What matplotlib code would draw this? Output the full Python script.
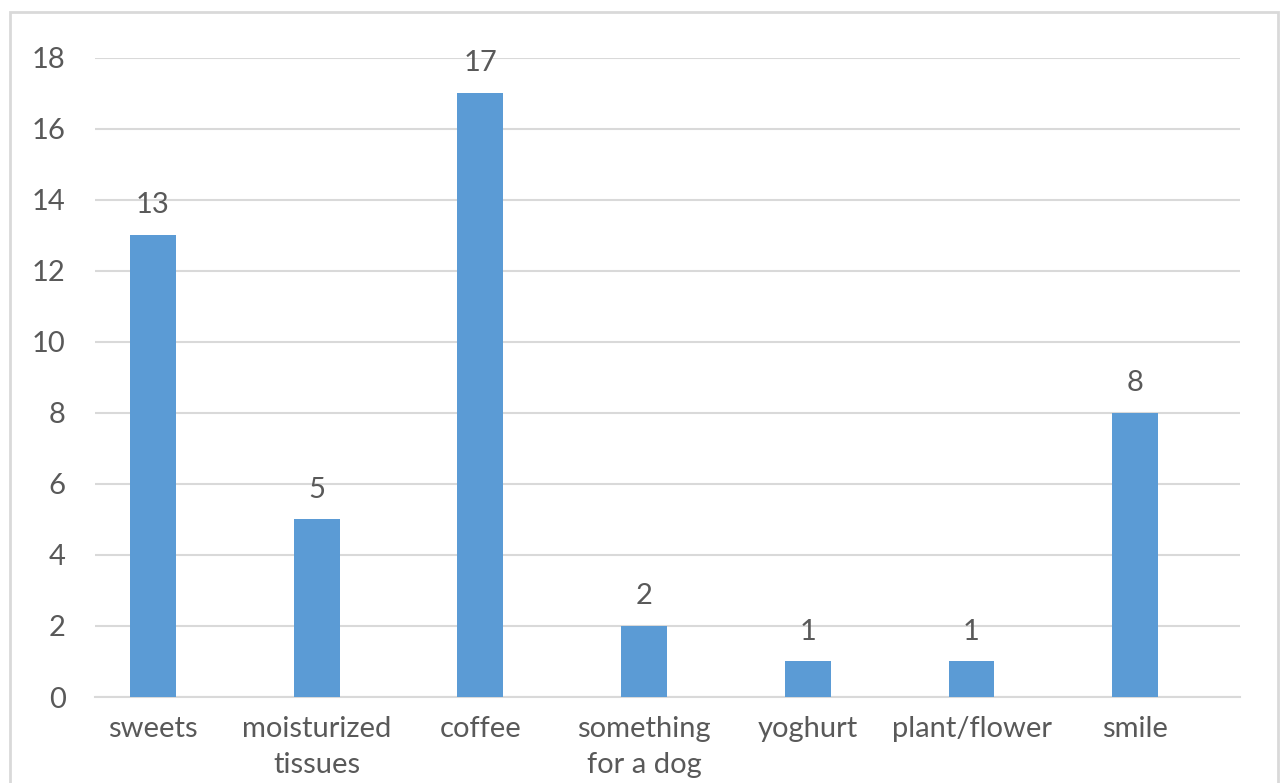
import matplotlib
matplotlib.use("Agg")
import matplotlib.pyplot as plt
from matplotlib.patches import Rectangle
import numpy as np

categories = ["sweets", "moisturized\ntissues", "coffee", "something\nfor a dog",
              "yoghurt", "plant/flower", "smile"]
counts = [13, 5, 17, 2, 1, 1, 8]
yticks = [0, 2, 4, 6, 8, 10, 12, 14, 16, 18]

plt.rcParams['font.family'] = ['Lato', 'DejaVu Sans']
text_color = "#595959"
bar_color = "#5B9BD5"
grid_color = "#D9D9D9"

fig = plt.figure(figsize=(12.81, 7.83), dpi=100)
ax = fig.add_axes([95/1281, 1-697/783, (1240-95)/1281, (697-57.5)/783])

# outer chart border like the spreadsheet chart frame
fig.patches.append(Rectangle((10/1281, -0.05), (1278-10)/1281, 1.05 - 12/783,
                             transform=fig.transFigure, fill=False,
                             edgecolor="#D9D9D9", linewidth=2, clip_on=False))

x = np.arange(len(categories))
bars = ax.bar(x, counts, width=0.28, color=bar_color, zorder=3)

for xi, v in zip(x, counts):
	ax.annotate(str(v), (xi, v), xytext=(0, 12), textcoords="offset points",
	            ha="center", va="bottom", fontsize=21, color=text_color)

ax.set_xlim(-0.354, 6.64)
ax.set_ylim(0, 18)
ax.set_yticks(yticks)
ax.set_xticks(x)
ax.set_xticklabels(categories, fontsize=21, color=text_color, linespacing=1.45)
ax.tick_params(axis="y", labelsize=21, labelcolor=text_color, length=0, pad=21)
ax.tick_params(axis="x", length=0, pad=14)
for lbl in ax.get_xticklabels():
	lbl.set_verticalalignment("top")

ax.yaxis.grid(True, color=grid_color, linewidth=1.5, zorder=0)
for s in ["top", "right", "left"]:
	ax.spines[s].set_visible(False)
ax.spines["bottom"].set_color(grid_color)
ax.spines["bottom"].set_linewidth(1.5)

fig.savefig("out.png", dpi=100)
